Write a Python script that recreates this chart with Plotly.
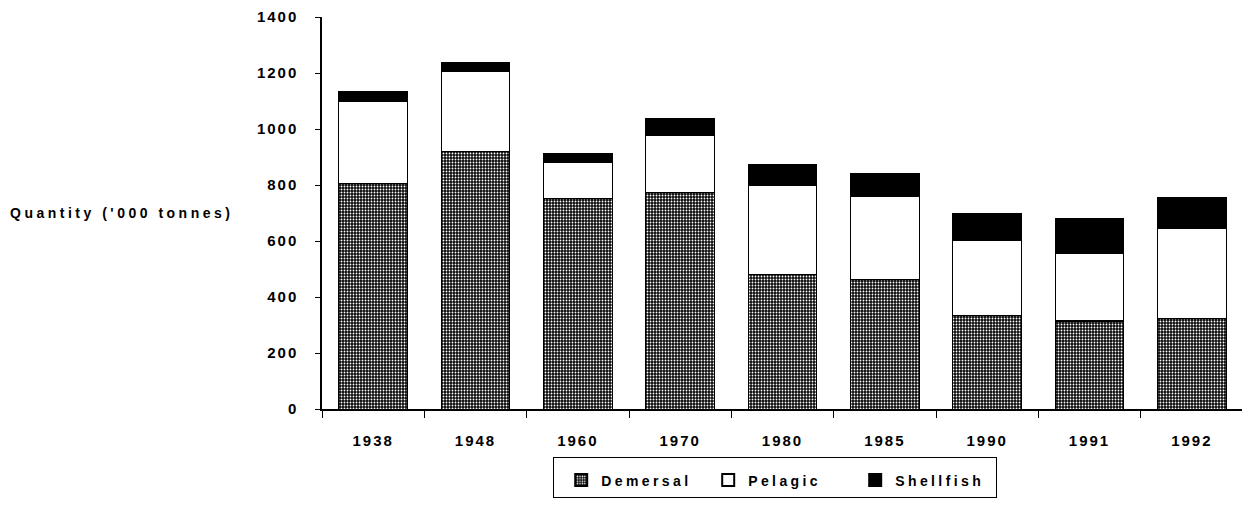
import plotly.graph_objects as go

years = ["1938", "1948", "1960", "1970", "1980", "1985", "1990", "1991", "1992"]
demersal = [805, 919, 753, 774, 481, 462, 333, 314, 323]
pelagic = [292, 287, 127, 202, 316, 297, 269, 243, 323]
shellfish = [38, 33, 33, 61, 75, 81, 98, 125, 111]
y_ticks = [0, 200, 400, 600, 800, 1000, 1200, 1400]
series_names = ["Demersal", "Pelagic", "Shellfish"]
y_title = "Quantity ('000 tonnes)"

FONT = "Liberation Sans, Arial, sans-serif"


def spaced(s, px=2.0):
    return f'<span style="letter-spacing:{px}px">{s}</span>'


fig = go.Figure()
fig.add_trace(go.Bar(
    x=years, y=demersal, name=spaced(series_names[0], 3.4),
    marker=dict(color="black", line=dict(color="black", width=1),
                pattern=dict(shape=".", fgcolor="white", bgcolor="#0a0a0a",
                             size=3, solidity=0.3, fillmode="replace")),
))
fig.add_trace(go.Bar(
    x=years, y=pelagic, name=spaced(series_names[1], 3.4),
    marker=dict(color="white", line=dict(color="black", width=1.2)),
))
fig.add_trace(go.Bar(
    x=years, y=shellfish, name=spaced(series_names[2], 3.4),
    marker=dict(color="black", line=dict(color="black", width=1)),
))

# The page body has an 8px margin, so figure coords = screen coords - 8.
W, H = 1242, 497
PL, PR, PT, PB = 314, 1235, 9, 403
fig.update_layout(
    barmode="stack",
    bargap=0.33,
    width=W, height=H,
    margin=dict(l=PL, r=W - PR, t=PT, b=H - PB),
    paper_bgcolor="white", plot_bgcolor="white",
    font=dict(family=FONT, size=14, color="black", weight="bold"),
    showlegend=True,
    legend=dict(
        orientation="h", x=(545 - PL) / (PR - PL), xanchor="left",
        y=(PB - 451) / (PB - PT), yanchor="top",
        bordercolor="black", borderwidth=1.2, bgcolor="white",
        entrywidth=95, entrywidthmode="pixels", indentation=7,
        title=dict(text=" ", side="top", font=dict(size=5)),
        font=dict(family=FONT, size=14, color="black", weight="bold"),
        traceorder="normal", itemsizing="constant",
    ),
    xaxis=dict(
        type="category", automargin=False,
        tickmode="array", tickvals=years, ticktext=[spaced(y, 2) for y in years],
        showline=True, linecolor="black", linewidth=1.5,
        ticks="outside", tickson="boundaries", ticklen=7, tickcolor="black", tickwidth=1.2,
        showgrid=False, zeroline=False,
        tickfont=dict(family=FONT, size=15, color="black", weight="bold"),
        ticklabelstandoff=17,
    ),
    yaxis=dict(
        range=[0, 1400], automargin=False, tickmode="array", tickvals=y_ticks,
        ticktext=[spaced(str(v), 2) for v in y_ticks],
        showline=True, linecolor="black", linewidth=1.5,
        ticks="outside", ticklen=5, tickcolor="black", tickwidth=1.2,
        showgrid=False, zeroline=False,
        tickfont=dict(family=FONT, size=15, color="black", weight="bold"),
        ticklabelstandoff=14,
    ),
    yaxis2=dict(
        range=[0, 1400], automargin=False, overlaying="y", side="left",
        tickmode="array", tickvals=y_ticks,
        showticklabels=False, showline=False, ticks="inside", ticklen=6,
        tickcolor="black", tickwidth=1.2, showgrid=False, zeroline=False,
    ),
    annotations=[dict(
        text=spaced(y_title, 3.5), xref="paper", yref="paper",
        x=(0 - PL) / (PR - PL), y=(PB - 206) / (PB - PT), xanchor="left", yanchor="middle",
        showarrow=False, font=dict(family=FONT, size=14, color="black", weight="bold"),
    )],
)

fig.write_html("out.html")
